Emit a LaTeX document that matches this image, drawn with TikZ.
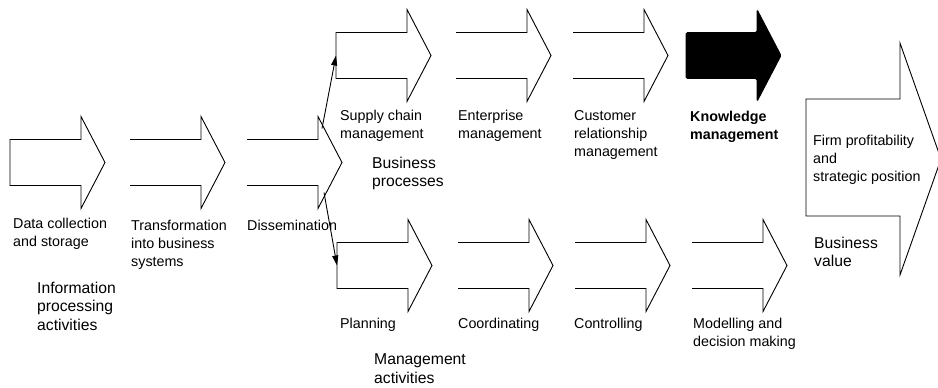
\documentclass[tikz,border=0pt]{standalone}
\usepackage{fontspec}
\setmainfont{Liberation Sans}
\usetikzlibrary{arrows.meta,calc}

\tikzset{
  arrowbox/.style={draw=black, line width=0.9pt, fill=white},
  solidbox/.style={draw=black, line width=0.9pt, fill=black, rounded corners=1.5pt},
  % labels are placed at the baseline of their first line
  itemtext/.style={anchor=north west, yshift=10.3pt, inner sep=0pt, align=left, font=\fontsize{14.3}{18}\selectfont},
  grouptext/.style={anchor=north west, yshift=11.3pt, inner sep=0pt, align=left, font=\fontsize{15.7}{18.5}\selectfont},
  link/.style={line width=0.9pt, -{Triangle[length=10pt,width=6pt]}},
}

% #1 style, #2 name, #3 left x, #4 centre y, #5 end of the outline (-- cycle or nothing)
\newcommand{\blockarrow}[5]{%
  \path[#1] (#3,#4-23) -- ++(71,0) -- ++(0,-23) -- ++(24,46)
    -- ++(-24,46) -- ++(0,-23) -- ++(-71,0) #5;
  \coordinate (#2) at (#3,#4);}

\begin{document}
\begin{tikzpicture}[x=1pt, y=-1pt]
  % page in pixel units, y running downwards
  \useasboundingbox (0,0) rectangle (938,388);
  \clip (0,0) rectangle (938,388);

  % information processing row
  \blockarrow{arrowbox}{collect}{10}{162.5}{-- cycle}
  \blockarrow{arrowbox}{transform}{130}{162.5}{}
  \blockarrow{arrowbox}{dis}{247}{162.5}{}

  % business processes row
  \blockarrow{arrowbox}{scm}{336}{55.5}{-- cycle}
  \blockarrow{arrowbox}{ent}{456}{55.5}{}
  \blockarrow{arrowbox}{crm}{573}{55.5}{}
  \blockarrow{solidbox}{km}{686}{55.5}{-- cycle}

  % management activities row
  \blockarrow{arrowbox}{plan}{337}{265.5}{-- cycle}
  \blockarrow{arrowbox}{coord}{458}{265.5}{}
  \blockarrow{arrowbox}{ctrl}{575}{265.5}{}
  \blockarrow{arrowbox}{model}{692}{265.5}{}

  % business value
  \draw[arrowbox] (806,99) -- (900,99) -- (900,43) -- (941,159)
    -- (900,275) -- (900,216) -- (806,216) -- cycle;
  \coordinate (value) at (806,157.5);

  % dissemination feeds both rows
  \coordinate (dis-up) at ($(dis)+(75,-34)$);
  \coordinate (dis-down) at ($(dis)+(77,30)$);
  \draw[link] (dis-up) -- (scm);
  \draw[link] (dis-down) -- (plan);

  \node[itemtext] (collect-lbl) at (13,228) {Data collection\\and storage};
  \node[itemtext] (transform-lbl) at (131,230) {Transformation\\into business\\systems};
  \node[itemtext] (dis-lbl) at (247,230) {Dissemination};
  \node[grouptext] (info-lbl) at (37,293) {Information\\processing\\activities};

  \node[itemtext] (scm-lbl) at (340,120) {Supply chain\\management};
  \node[itemtext] (ent-lbl) at (458,120) {Enterprise\\management};
  \node[itemtext] (crm-lbl) at (574,121) {Customer\\relationship\\management};
  \node[itemtext, font=\fontsize{14.3}{18}\selectfont\bfseries] (km-lbl) at (690,121) {Knowledge\\management};
  \node[grouptext] (bp-lbl) at (372,168) {Business\\processes};

  \node[itemtext] (plan-lbl) at (340,328) {Planning};
  \node[itemtext] (coord-lbl) at (458,328) {Coordinating};
  \node[itemtext] (ctrl-lbl) at (574,328) {Controlling};
  \node[itemtext] (model-lbl) at (693,328) {Modelling and\\decision making};
  \node[grouptext] (ma-lbl) at (374,365) {Management\\activities};

  \node[itemtext] (value-lbl) at (813,145) {Firm profitability\\and\\strategic position};
  \node[grouptext] (bv-lbl) at (814,248) {Business\\value};
\end{tikzpicture}
\end{document}
